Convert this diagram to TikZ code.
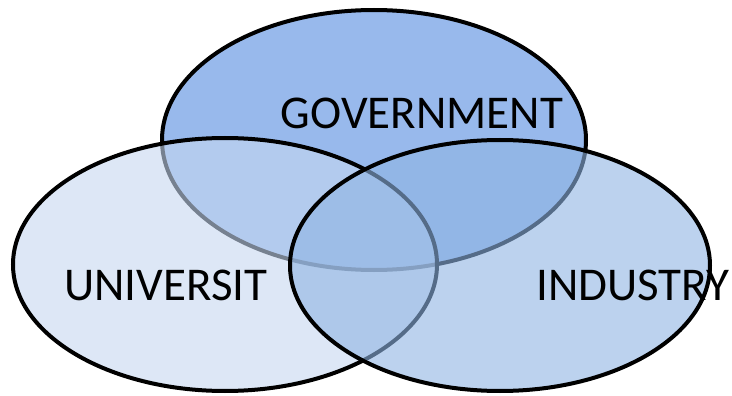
\documentclass[tikz,border=0pt]{standalone}
\usepackage{fontspec}
\setmainfont{Carlito}
\usetikzlibrary{shapes.geometric}
\definecolor{govfill}{RGB}{152,185,236}
\definecolor{unifill}{RGB}{198,215,240}
\definecolor{indfill}{RGB}{143,180,227}
\tikzset{
  setshape/.style={ellipse, draw=black, line width=4pt, inner sep=0pt, outer sep=0pt},
  label/.style={font=\fontsize{47}{51}\selectfont, text=black, inner sep=0pt}
}
\begin{document}
\begin{tikzpicture}[x=1pt,y=-1pt]
\useasboundingbox (0,0) rectangle (732,396);
\node[setshape, fill=govfill, minimum width=424pt, minimum height=260pt] (gov) at (374,140) {};
\node[setshape, fill=unifill, fill opacity=0.6, draw opacity=1, minimum width=424pt, minimum height=253pt] (uni) at (225,264.5) {};
\node[setshape, fill=indfill, fill opacity=0.6, draw opacity=1, minimum width=420pt, minimum height=251pt] (ind) at (500,265.5) {};
\node[label] (govtext) at (422,113) {GOVERNMENT};
\node[label] (unitext) at (166,285) {UNIVERSIT};
\node[label] (indtext) at (633,285) {INDUSTRY};
\end{tikzpicture}
\end{document}
